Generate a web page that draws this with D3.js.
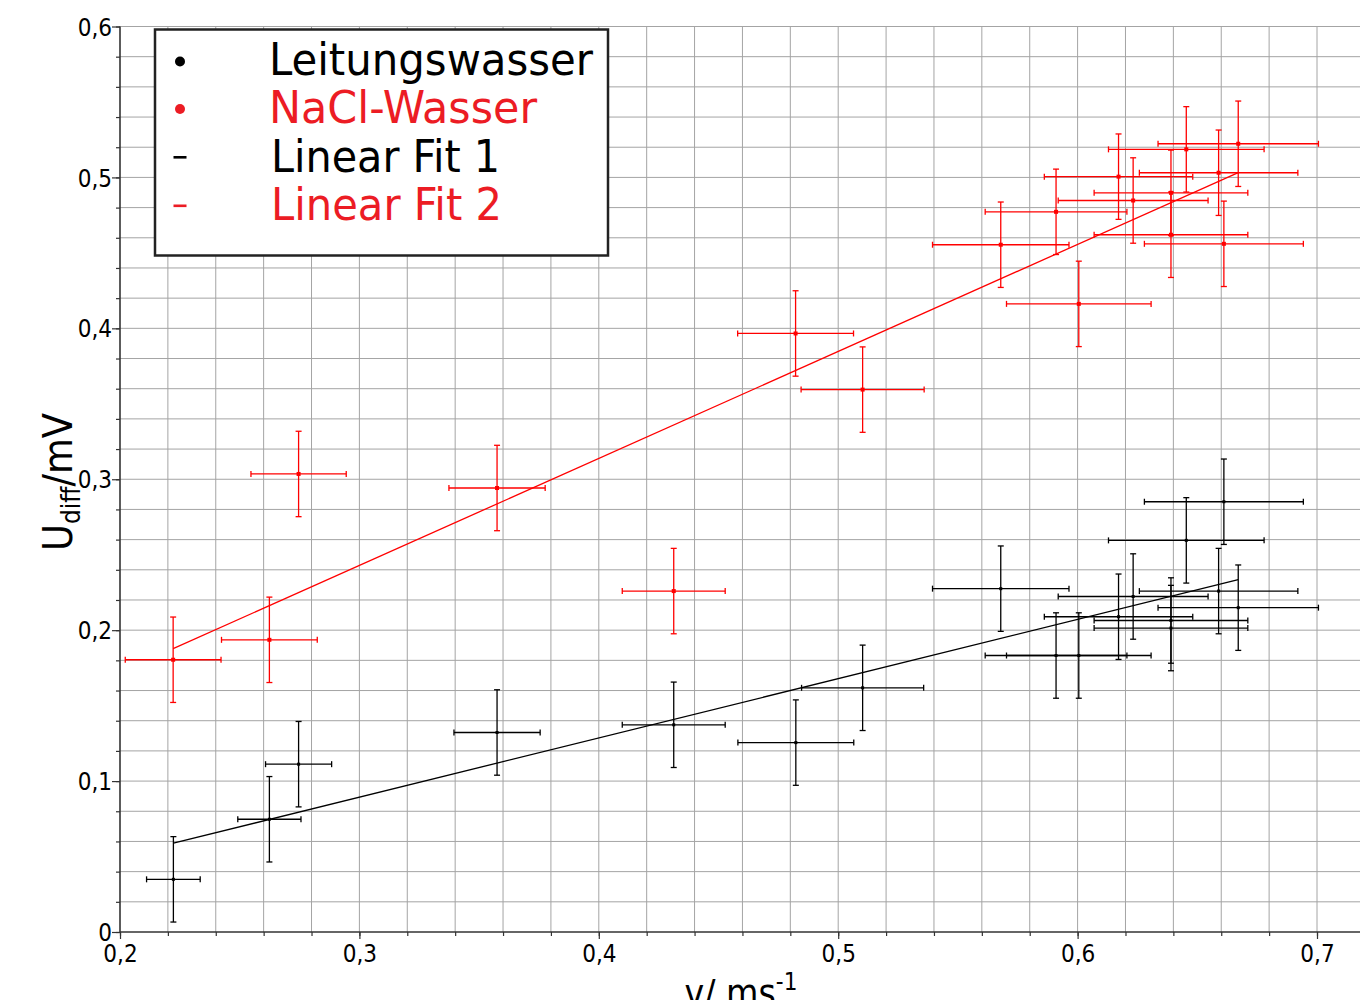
<!DOCTYPE html>
<html>
<head>
<meta charset="utf-8">
<script src="https://cdn.jsdelivr.net/npm/d3@7"></script>
<style>
  html, body { margin: 0; padding: 0; background: #fff; }
  svg { display: block; }
  text { font-family: "DejaVu Sans Condensed", "DejaVu Sans", sans-serif; font-stretch: condensed; }
</style>
</head>
<body>
<svg id="chart" width="1360" height="1000"></svg>
<script>
// ---- data ----
const vLeitung    = [0.2223, 0.2624, 0.2746, 0.3575, 0.4313, 0.4823, 0.5102, 0.5679, 0.5910, 0.6005, 0.6171, 0.6232, 0.6390, 0.6390, 0.6454, 0.6589, 0.6611, 0.6671];
const vErrLeitung = [0.0112, 0.0132, 0.0138, 0.0180, 0.0215, 0.0242, 0.0255, 0.0285, 0.0296, 0.0302, 0.0310, 0.0313, 0.0321, 0.0321, 0.0325, 0.0331, 0.0332, 0.0335];
const uLeitung    = [0.0349, 0.0747, 0.1112, 0.1322, 0.1373, 0.1255, 0.1618, 0.2275, 0.1832, 0.1832, 0.2089, 0.2223, 0.2064, 0.2014, 0.2595, 0.2259, 0.2851, 0.2149];
const uErrLeitung = [0.0283, 0.0283, 0.0283, 0.0283, 0.0283, 0.0283, 0.0283, 0.0283, 0.0283, 0.0283, 0.0283, 0.0283, 0.0283, 0.0283, 0.0283, 0.0283, 0.0283, 0.0283];

const vNaCl    = [0.2222, 0.2624, 0.2746, 0.3575, 0.4313, 0.4822, 0.5102, 0.5679, 0.5910, 0.6005, 0.6171, 0.6232, 0.6390, 0.6390, 0.6454, 0.6589, 0.6611, 0.6671];
const vErrNaCl = [0.0200, 0.0200, 0.0199, 0.0201, 0.0215, 0.0242, 0.0257, 0.0285, 0.0296, 0.0302, 0.0310, 0.0313, 0.0321, 0.0321, 0.0325, 0.0331, 0.0332, 0.0335];
const uNaCl    = [0.1804, 0.1936, 0.3035, 0.2942, 0.2259, 0.3966, 0.3594, 0.4554, 0.4772, 0.4162, 0.5005, 0.4847, 0.4898, 0.4620, 0.5186, 0.5031, 0.4560, 0.5223];
const uErrNaCl = [0.0283, 0.0283, 0.0283, 0.0283, 0.0283, 0.0283, 0.0283, 0.0283, 0.0283, 0.0283, 0.0283, 0.0283, 0.0283, 0.0283, 0.0283, 0.0283, 0.0283, 0.0283];

// linear fits: U = intercept + slope * v
const fitSlopes     = [0.3925, 0.7090];
const fitIntercepts = [-0.0284, 0.0302];

const xTickValues = [0.2, 0.3, 0.4, 0.5, 0.6, 0.7];
const xTickLabels = ["0,2", "0,3", "0,4", "0,5", "0,6", "0,7"];
const yTickValues = [0, 0.1, 0.2, 0.3, 0.4, 0.5, 0.6];
const yTickLabels = ["0", "0,1", "0,2", "0,3", "0,4", "0,5", "0,6"];

const legendLabels = ["Leitungswasser", "NaCl-Wasser", "Linear Fit 1", "Linear Fit 2"];
const legendSymbols = ["dot", "dot", "dash", "dash"];

// ---- styles ----
const RED = "#ff0000", LEG_RED = "#ec1c24", BLACK = "#000";
const seriesColors = [BLACK, RED];
const legendColors = [BLACK, LEG_RED, BLACK, LEG_RED];
const legendTextX = [269, 269, 271, 271];
const legendTextW = [324, 268, 229, 231];

const svg = d3.select("#chart");
const x = d3.scaleLinear().domain([0.2, 0.72]).range([120, 120 + 0.52 * 2394]);
const y = d3.scaleLinear().domain([0, 0.6]).range([932, 26.5]);

const xMax = 0.72;
const xMinor = d3.range(0.2, xMax + 1e-9, 0.02);
const yMinor = d3.range(0, 0.6 + 1e-9, 0.02);

// grid
const grid = svg.append("g");
grid.selectAll(".gx").data(xMinor.slice(1)).join("line")
  .attr("x1", d => x(d)).attr("x2", d => x(d))
  .attr("y1", y(0.6)).attr("y2", y(0))
  .attr("stroke", "#a4a4a4").attr("stroke-width", 1);
grid.selectAll(".gy").data(yMinor.slice(1)).join("line")
  .attr("x1", x(0.2)).attr("x2", 1360)
  .attr("y1", d => y(d)).attr("y2", d => y(d))
  .attr("stroke", "#a4a4a4").attr("stroke-width", 1);

// axes
const axisG = svg.append("g");
const xAxisMinor = d3.axisBottom(x).tickValues(xMinor).tickSize(4).tickFormat("");
const xAxisMajor = d3.axisBottom(x).tickValues(xTickValues).tickSize(7)
  .tickFormat((d, i) => xTickLabels[i]);
const gxMinor = axisG.append("g").attr("transform", `translate(0,${y(0)})`).call(xAxisMinor);
const gxMajor = axisG.append("g").attr("transform", `translate(0,${y(0)})`).call(xAxisMajor);
[gxMinor, gxMajor].forEach(g => {
  g.select(".domain").remove();
  g.selectAll(".tick line").attr("stroke", "#333").attr("stroke-width", 1.2);
});
gxMajor.selectAll(".tick text").attr("font-size", 24).attr("fill", "#000")
  .attr("y", 13).attr("dy", "0.71em")
  .style("font-family", '"DejaVu Sans Condensed", "DejaVu Sans", sans-serif');

const yAxisMinor = d3.axisLeft(y).tickValues(yMinor).tickSize(4).tickFormat("");
const yAxisMajor = d3.axisLeft(y).tickValues(yTickValues).tickSize(8)
  .tickFormat((d, i) => yTickLabels[i]);
const gyMinor = axisG.append("g").attr("transform", `translate(${x(0.2)},0)`).call(yAxisMinor);
const gyMajor = axisG.append("g").attr("transform", `translate(${x(0.2)},0)`).call(yAxisMajor);
[gyMinor, gyMajor].forEach(g => {
  g.select(".domain").remove();
  g.selectAll(".tick line").attr("stroke", "#333").attr("stroke-width", 1.2);
});
gyMajor.selectAll(".tick text").attr("font-size", 24).attr("fill", "#000")
  .attr("x", -8).attr("dy", "0.36em")
  .style("font-family", '"DejaVu Sans Condensed", "DejaVu Sans", sans-serif');

// axis lines
axisG.append("line").attr("x1", x(0.2)).attr("x2", x(0.2)).attr("y1", y(0.6)).attr("y2", y(0))
  .attr("stroke", "#333").attr("stroke-width", 1.6);
axisG.append("line").attr("x1", x(0.2)).attr("x2", 1360).attr("y1", y(0)).attr("y2", y(0))
  .attr("stroke", "#333").attr("stroke-width", 1.6);

// axis titles
const yTitle = svg.append("text")
  .attr("transform", `translate(72,482) rotate(-90)`)
  .attr("text-anchor", "middle").attr("font-size", 41).attr("fill", "#000");
yTitle.append("tspan").text("U");
yTitle.append("tspan").attr("font-size", 26).attr("dy", 8).text("diff");
yTitle.append("tspan").attr("dy", -8).text("/mV");

const xTitle = svg.append("text")
  .attr("x", 741).attr("y", 1006)
  .attr("text-anchor", "middle").attr("font-size", 37).attr("fill", "#000");
xTitle.append("tspan").text("v/ ms");
xTitle.append("tspan").attr("font-size", 24).attr("dy", -16).text("-1");

// ---- data series ----
const series = [
  { v: vLeitung, ve: vErrLeitung, u: uLeitung, ue: uErrLeitung, color: seriesColors[0], ms: 3 },
  { v: vNaCl, ve: vErrNaCl, u: uNaCl, ue: uErrNaCl, color: seriesColors[1], ms: 4 }
];

// fit lines
const fitG = svg.append("g");
series.forEach((s, k) => {
  const ext = d3.extent(s.v);
  const pts = ext.map(vv => [vv, fitIntercepts[k] + fitSlopes[k] * vv]);
  fitG.append("path")
    .attr("d", d3.line().x(d => x(d[0])).y(d => y(d[1]))(pts))
    .attr("fill", "none").attr("stroke", s.color).attr("stroke-width", 1.3);
});

const cap = 3;
series.forEach(s => {
  const g = svg.append("g").attr("stroke", s.color).attr("stroke-width", 1.3);
  const data = s.v.map((vv, i) => ({ v: vv, ve: s.ve[i], u: s.u[i], ue: s.ue[i] }));
  g.selectAll(".hx").data(data).join("line")
    .attr("x1", d => x(d.v - d.ve)).attr("x2", d => x(d.v + d.ve))
    .attr("y1", d => y(d.u)).attr("y2", d => y(d.u));
  g.selectAll(".hcl").data(data).join("line")
    .attr("x1", d => x(d.v - d.ve)).attr("x2", d => x(d.v - d.ve))
    .attr("y1", d => y(d.u) - cap).attr("y2", d => y(d.u) + cap);
  g.selectAll(".hcr").data(data).join("line")
    .attr("x1", d => x(d.v + d.ve)).attr("x2", d => x(d.v + d.ve))
    .attr("y1", d => y(d.u) - cap).attr("y2", d => y(d.u) + cap);
  g.selectAll(".vy").data(data).join("line")
    .attr("x1", d => x(d.v)).attr("x2", d => x(d.v))
    .attr("y1", d => y(d.u - d.ue)).attr("y2", d => y(d.u + d.ue));
  g.selectAll(".vct").data(data).join("line")
    .attr("x1", d => x(d.v) - cap).attr("x2", d => x(d.v) + cap)
    .attr("y1", d => y(d.u + d.ue)).attr("y2", d => y(d.u + d.ue));
  g.selectAll(".vcb").data(data).join("line")
    .attr("x1", d => x(d.v) - cap).attr("x2", d => x(d.v) + cap)
    .attr("y1", d => y(d.u - d.ue)).attr("y2", d => y(d.u - d.ue));
  svg.append("g").selectAll("rect").data(data).join("rect")
    .attr("x", d => x(d.v) - s.ms / 2).attr("y", d => y(d.u) - s.ms / 2)
    .attr("width", s.ms).attr("height", s.ms).attr("fill", s.color);
});

// ---- legend ----
const leg = svg.append("g");
leg.append("rect").attr("x", 155).attr("y", 29.5).attr("width", 453).attr("height", 226)
  .attr("fill", "#fff").attr("stroke", "#222").attr("stroke-width", 2.5);
const rowY = [75, 122.5, 171.5, 220];
legendLabels.forEach((lab, i) => {
  const c = legendColors[i];
  if (legendSymbols[i] === "dot") {
    leg.append("circle").attr("cx", 180).attr("cy", rowY[i] - 13.5).attr("r", 5).attr("fill", c);
  } else {
    leg.append("rect").attr("x", 173.5).attr("y", rowY[i] - 15.5).attr("width", 13).attr("height", 2.6).attr("fill", c);
  }
  leg.append("text").attr("x", legendTextX[i]).attr("y", rowY[i])
    .attr("font-size", 45).attr("fill", c)
    .attr("textLength", legendTextW[i]).attr("lengthAdjust", "spacingAndGlyphs")
    .text(lab);
});
</script>
</body>
</html>
